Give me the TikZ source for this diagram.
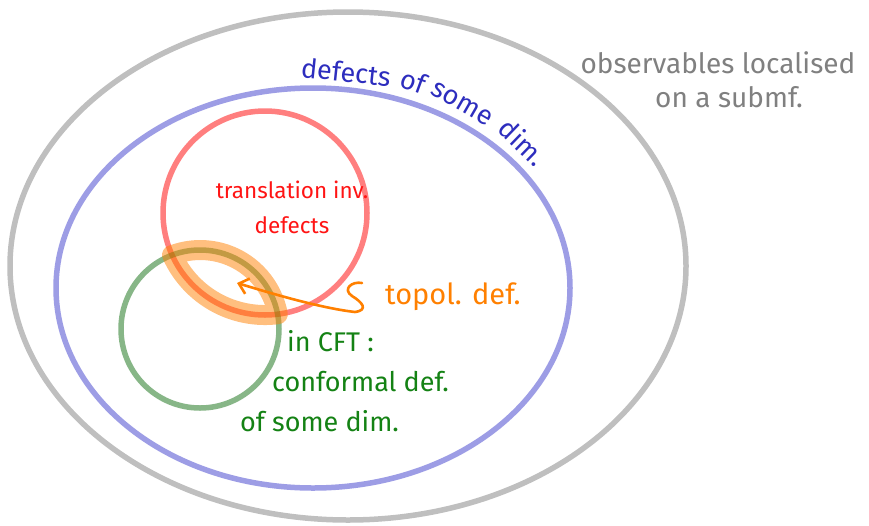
\documentclass[tikz,border=0pt]{standalone}
\usepackage{fontspec}
\setmainfont{Fira Sans}
\usetikzlibrary{arrows.meta}
\definecolor{cgray}{RGB}{128,128,128}
\definecolor{cblue}{RGB}{60,60,205}
\definecolor{cbluetxt}{RGB}{45,45,190}
\definecolor{cred}{RGB}{255,20,20}
\definecolor{cgreen}{RGB}{20,130,20}
\definecolor{corange}{RGB}{255,128,0}
\tikzset{
  setline/.style={line width=5.5pt, draw opacity=0.5},
  lbl/.style={inner sep=0pt, align=center},
  bluelbl/.style={lbl, text=cbluetxt, font=\fontsize{27}{30}\selectfont},
}
\begin{document}
\begin{tikzpicture}[x=1pt,y=1pt]
\useasboundingbox (0,0) rectangle (869,-525);
\fill[white] (0,0) rectangle (869,-525);
% sets
\draw[setline, cgray] (348,-266) ellipse [x radius=338, y radius=254];
\draw[setline, cblue] (313,-288) ellipse [x radius=257, y radius=200];
\draw[setline, red] (265,-213) circle [radius=102];
\draw[setline, cgreen!85!black] (200,-329) circle [radius=79];
% lens highlight
\coordinate (lensA) at (172.1,-255);
\draw[line width=20pt, draw opacity=0.5, corange, line join=round]
  (lensA) arc[start angle=204.3, end angle=277.2, radius=102]
  arc[start angle=10.8, end angle=110.7, radius=79] -- cycle;
% labels
\node[lbl, text=cgray, font=\fontsize{28}{34}\selectfont] (obs) at (718,-80)
  {observables localised\\\hspace*{22pt}on a submf.};
\node[bluelbl, rotate=-6] (bw1) at (346,-72) {defects};
\node[bluelbl, rotate=-20] (bw2) at (414,-81) {of};
\node[bluelbl, rotate=-30] (bw3) at (462,-104) {some};
\node[bluelbl, rotate=-44] (bw4) at (523,-142) {dim.};
\node[lbl, text=cred, font=\fontsize{22.5}{35}\selectfont] (trans) at (292,-207)
  {translation inv.\\defects};
\node[lbl, anchor=west, text=corange, font=\fontsize{29}{30}\selectfont] (topol) at (385,-297)
  {topol. def.};
\node[lbl, align=left, anchor=north west, text=cgreen, font=\fontsize{27}{40}\selectfont] (cft) at (240,-330)
  {\hspace*{47pt}in CFT :\\\hspace*{32pt}conformal def.\\of some dim.};
% arrow
\coordinate (sstart) at (362,-283);
\coordinate (arrowtip) at (237,-283);
\draw[corange, line width=2.6pt, line cap=round, line join=round,
  -{Straight Barb[length=9pt,width=16pt]}]
  (sstart) .. controls (352,-281) and (342,-289) .. (352,-296)
  .. controls (362,-302) and (369,-310) .. (355,-312)
  .. controls (320,-308) and (270,-293) .. (arrowtip);
\end{tikzpicture}
\end{document}
